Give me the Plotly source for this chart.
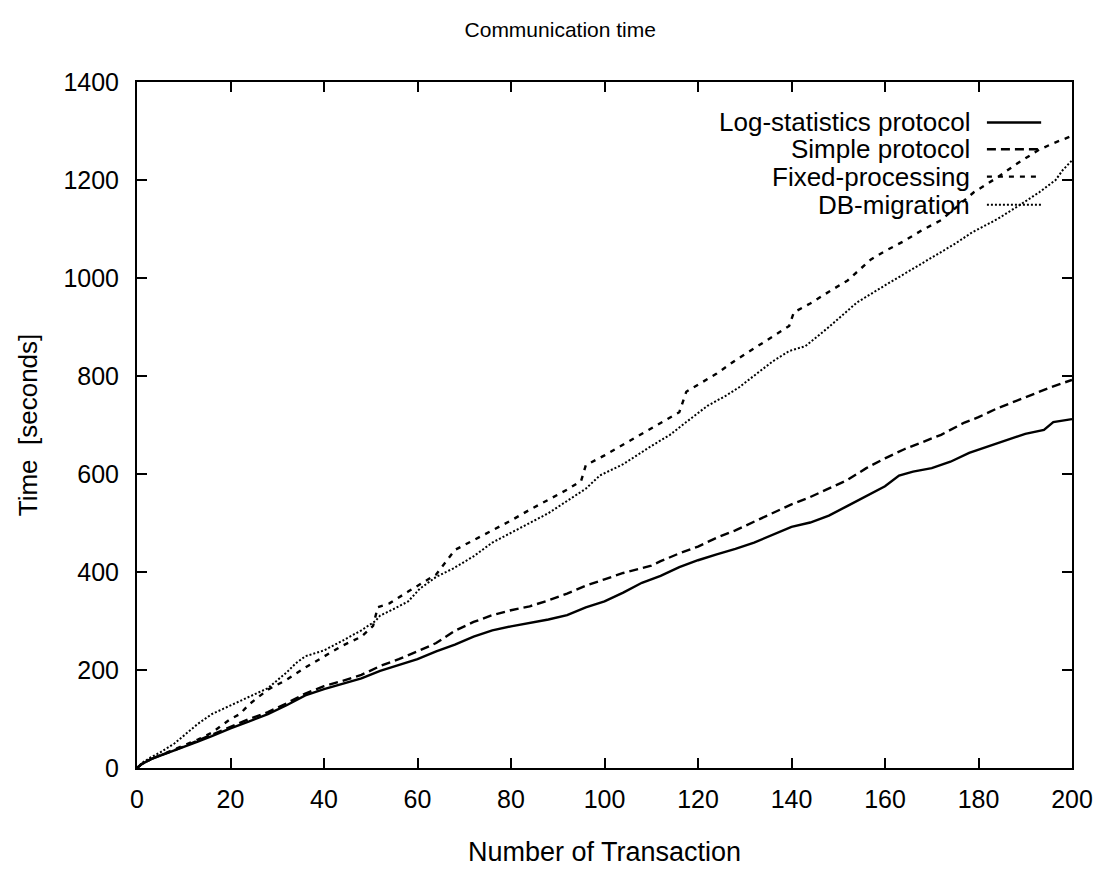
import plotly.graph_objects as go

# ---- data ----
log_x = [0, 1, 3, 5, 8, 10, 13, 16, 20, 24, 28, 32, 36, 40, 44, 48, 52, 56, 60, 64, 68, 72, 76, 80,
         84, 88, 92, 96, 100, 104, 108, 112, 116, 120, 124, 128, 132, 136, 140, 144, 148, 152, 156,
         160, 163, 166, 170, 174, 178, 182, 186, 190, 194, 196, 200]
log_y = [0, 8, 18, 25, 35, 42, 54, 65, 81, 95, 110, 128, 148, 161, 172, 183, 198, 210, 222, 238, 252,
         268, 281, 289, 296, 303, 312, 328, 340, 358, 378, 392, 410, 424, 436, 447, 460, 476, 492, 501,
         515, 535, 555, 575, 597, 605, 612, 625, 643, 656, 670, 682, 690, 706, 712]

simple_x = [0, 1, 3, 5, 8, 10, 13, 16, 20, 24, 28, 32, 36, 40, 44, 48, 52, 56, 60, 64, 68, 72, 76, 80,
            84, 88, 92, 96, 100, 104, 108, 110, 112, 116, 120, 122, 124, 128, 132, 136, 140, 144, 148,
            152, 156, 160, 164, 167, 172, 177, 180, 184, 188, 192, 196, 200]
simple_y = [0, 8, 18, 26, 36, 44, 56, 68, 85, 100, 114, 132, 152, 167, 178, 190, 208, 222, 238, 255,
            280, 298, 312, 322, 330, 342, 356, 372, 385, 398, 408, 413, 422, 438, 452, 461, 470, 485,
            503, 520, 538, 553, 570, 588, 612, 632, 650, 661, 680, 705, 716, 734, 749, 765, 779, 792]

fixed_x = [0, 1, 3, 5, 8, 10, 13, 16, 20, 22, 24, 28, 32, 36, 40, 44, 48, 50.5, 51.5, 54, 58, 61, 64,
           66, 68, 72, 76, 80, 84, 88, 92, 95, 96, 100, 104, 108, 112, 116, 117.5, 120, 124, 128, 132,
           136, 139.5, 140.5, 144, 148, 152, 157, 160, 164, 168, 172, 176, 179, 184, 188, 193, 196, 200]
fixed_y = [0, 8, 18, 26, 38, 46, 58, 72, 100, 110, 130, 160, 180, 205, 228, 250, 268, 290, 328, 336,
           360, 378, 395, 420, 445, 465, 485, 505, 527, 548, 568, 586, 618, 638, 660, 682, 703, 726,
           768, 782, 805, 832, 856, 880, 902, 930, 948, 972, 995, 1038, 1055, 1075, 1098, 1118, 1150,
           1175, 1205, 1232, 1262, 1275, 1290]

db_x = [0, 1, 3, 5, 8, 10, 13, 16, 20, 23.4, 28, 32, 34, 36, 40, 44, 48, 51, 52, 55, 58, 60.5, 64,
        67.6, 72, 76, 80, 84, 88, 92, 96, 99, 104, 110, 114, 117.5, 122, 126, 128.8, 133, 136, 139.5,
        143, 148, 154, 160, 164.5, 168, 171.6, 175, 178.6, 184, 189, 193, 196.5, 198, 200]
db_y = [0, 10, 22, 32, 50, 66, 90, 110, 128, 142, 163, 195, 214, 228, 240, 260, 281, 300, 311, 325,
        340, 366, 390, 407, 432, 460, 480, 500, 520, 545, 570, 597, 620, 657, 680, 706, 739, 760, 777,
        808, 830, 851, 861, 900, 950, 985, 1011, 1030, 1052, 1070, 1093, 1120, 1150, 1175, 1200, 1220,
        1240]

series_names = ["Log-statistics protocol", "Simple protocol", "Fixed-processing", "DB-migration"]
x_ticks = [0, 20, 40, 60, 80, 100, 120, 140, 160, 180, 200]
y_ticks = [0, 200, 400, 600, 800, 1000, 1200, 1400]

FONT = "Liberation Sans, Arial, sans-serif"
dashes = ["solid", "9px,5px", "5px,6px", "2px,2px"]
widths = [2.4, 2.4, 2.4, 2.0]

fig = go.Figure()
for name, xs, ys, d, w in zip(series_names, [log_x, simple_x, fixed_x, db_x],
                              [log_y, simple_y, fixed_y, db_y], dashes, widths):
    fig.add_trace(go.Scatter(x=xs, y=ys, mode="lines", name=name,
                             line=dict(color="black", width=w, dash=d), showlegend=False))

# manual legend (text right aligned, sample on the right, as in gnuplot)
leg_y = [0.941, 0.902, 0.862, 0.821]
for name, d, w, yy in zip(series_names, dashes, widths, leg_y):
    fig.add_annotation(xref="paper", yref="paper", x=0.893, y=yy, text=name, showarrow=False,
                       xanchor="right", yanchor="middle",
                       font=dict(family=FONT, size=26, color="black"))
    fig.add_shape(type="line", xref="paper", yref="paper", x0=0.909, x1=0.967, y0=yy, y1=yy,
                  line=dict(color="black", width=w, dash=d))

axis_common = dict(showgrid=False, zeroline=False, showline=True, linecolor="black", linewidth=2,
                   mirror="ticks", ticks="inside", ticklen=10, tickwidth=2, tickcolor="black",
                   tickfont=dict(family=FONT, size=25, color="black"))

fig.update_xaxes(range=[0, 200], tickvals=x_ticks, ticktext=[str(v) for v in x_ticks],
                 ticklabelstandoff=8,
                 title=dict(text="Number of Transaction", font=dict(family=FONT, size=27, color="black"),
                            standoff=30),
                 **axis_common)
fig.update_yaxes(range=[0, 1400], tickvals=y_ticks, ticktext=[str(v) for v in y_ticks],
                 ticklabelstandoff=11,
                 title=dict(text="Time  [seconds]", font=dict(family=FONT, size=26, color="black"),
                            standoff=18),
                 **axis_common)

fig.update_layout(
    width=1105, height=874,
    margin=dict(l=137, r=32, t=82, b=104),
    plot_bgcolor="white", paper_bgcolor="white",
    title=dict(text="Communication time", x=0.507, xanchor="center", y=0.966, yanchor="middle",
               font=dict(family=FONT, size=21, color="black")),
)

fig.write_html("out.html")
